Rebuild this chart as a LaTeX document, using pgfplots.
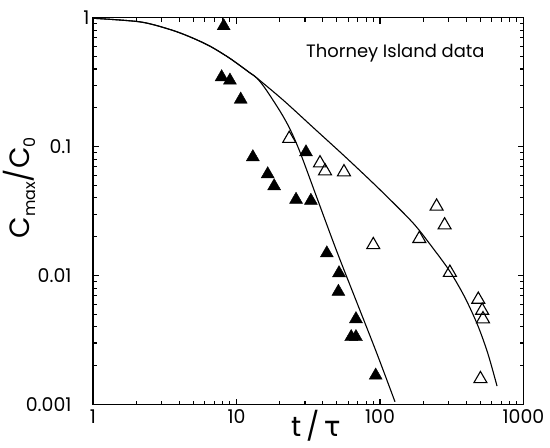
\documentclass[border=0pt]{standalone}
\usepackage{pgfplots}
\pgfplotsset{compat=1.18}
\usepackage{fontspec}
\setmainfont{Poppins}
\newfontfamily\gr{DejaVu Sans}
\begin{document}
\begin{tikzpicture}
\path[use as bounding box] (-93bp,-42.7bp) rectangle (457bp,404.5bp);
\begin{axis}[
  xmode=log, ymode=log,
  scale only axis,
  width=430.5bp, height=386.8bp,
  xmin=1, xmax=1000, ymin=0.001, ymax=1,
  xtick={1,10,100,1000}, xticklabels={1,10,100,1000},
  ytick={0.001,0.01,0.1}, yticklabels={0.001,0.01,0.1},
  extra y ticks={1}, extra y tick labels={1},
  extra y tick style={yticklabel style={xshift=18bp}},
  minor xtick={2,3,4,5,6,7,8,9,20,30,40,50,60,70,80,90,200,300,400,500,600,700,800,900},
  minor ytick={0.002,0.003,0.004,0.005,0.006,0.007,0.008,0.009,0.02,0.03,0.04,0.05,0.06,0.07,0.08,0.09,0.2,0.3,0.4,0.5,0.6,0.7,0.8,0.9},
  tick align=inside,
  major tick length=6bp, minor tick length=4bp,
  every tick/.style={black, line width=1.1bp},
  axis line style={line width=1.6bp},
  ticklabel style={font=\fontsize{19}{20}\selectfont},
  yticklabel style={xshift=-18bp},
  xticklabel style={yshift=-2bp},
  xlabel={t\,/\,{\gr τ}},
  ylabel={C\raisebox{-0.22em}{\fontsize{16}{16}\selectfont max}/C\raisebox{-0.22em}{\fontsize{16}{16}\selectfont 0}},
  label style={font=\fontsize{28}{30}\selectfont},
  xlabel style={at={(axis description cs:0.518,-0.056)}, anchor=center},
  ylabel style={at={(axis description cs:-0.17,0.56)}, anchor=center},
]
% upper curve
\addplot[black, line width=1.1bp, smooth, mark=none] coordinates {
(1,0.99) (2.13,0.928) (3.44,0.810) (4.74,0.710) (6.54,0.601) (9.01,0.483)
(12.42,0.373) (13.83,0.3414) (21.2,0.229) (34.3,0.1404) (58.6,0.0814)
(100,0.0463) (169.8,0.0256) (234,0.0163) (307.5,0.01074) (391,0.00675)
(482,0.00406) (566,0.00246) (654,0.00139)
};
% lower curve
\addplot[black, line width=1.1bp, smooth, mark=none] coordinates {
(1,0.99) (2.13,0.928) (3.44,0.810) (4.74,0.710) (6.54,0.601) (9.01,0.483)
(12.42,0.373) (13.83,0.3414) (15.8,0.284) (20.1,0.1885) (23.6,0.1367)
(27.7,0.0907) (36.2,0.0406) (49.9,0.01549) (68.8,0.00623) (94.8,0.00251)
(127.2,0.00105)
};
% filled triangles
\addplot[only marks, mark=triangle*, mark size=7.5bp, black, mark options={fill=black}] coordinates {
(8.14,0.862) (7.88,0.346) (9.0,0.326) (10.7,0.232) (13.0,0.083)
(16.5,0.0612) (18.3,0.0494) (26.0,0.0388) (33.0,0.0381) (30.5,0.0906)
(42.6,0.0149) (51.8,0.01045) (51.3,0.0075) (68.0,0.0046)
(63.0,0.00334) (68.0,0.00334) (93.3,0.00168)
};
% open triangles
\addplot[only marks, mark=triangle, mark size=7.5bp, black, mark options={fill=white, line width=1.1bp}] coordinates {
(23.3,0.1153) (38.2,0.0745) (41.4,0.0646) (56.1,0.0635) (89.8,0.0173)
(248,0.0344) (282,0.0246) (188,0.0193) (307,0.01055)
(484,0.00652) (515,0.00536) (522,0.0046) (501,0.00158)
};
\node[font=\fontsize{18}{19}\selectfont, anchor=center] at (axis cs:128,0.53) {Thorney Island data};
\end{axis}
\end{tikzpicture}
\end{document}
